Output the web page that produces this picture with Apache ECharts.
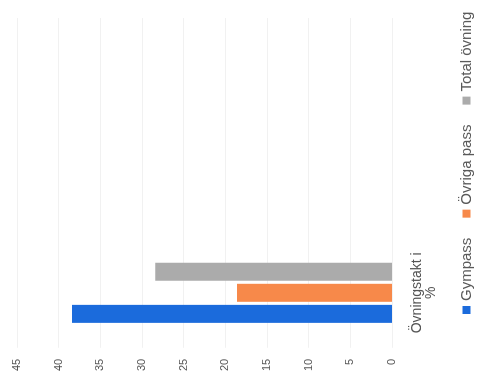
<!DOCTYPE html>
<html>
  <head>
    <meta charset="utf-8" />
    <title>Övningstakt</title>
    <script src="https://cdnjs.cloudflare.com/ajax/libs/echarts/6.0.0/echarts.min.js"></script>
  </head>
  <body>
    <style>
      html,
      body {
        width: 480px;
        height: 374px;
        margin: 0;
        padding: 0;
        overflow: hidden;
        background: #ffffff;
      }
      /* the photographed chart lies on its side, so draw it upright and turn it */
      #main {
        position: absolute;
        left: 0;
        top: 0;
        width: 374px;
        height: 480px;
        transform-origin: 0 0;
        transform: translateY(374px) rotate(-90deg);
      }
    </style>
    <div id="main"></div>
    <script type="text/javascript">
      var categories = ['Övningstakt i\n%'];
      var seriesNames = ['Gympass', 'Övriga pass', 'Total övning'];
      var gympass = [38.4];
      var ovrigaPass = [18.6];
      var totalOvning = [28.4];
      var colors = ['#1b6bdc', '#f7894a', '#ababab'];

      var chartDom = document.getElementById('main');
      var myChart = echarts.init(chartDom);
      var font = 'Liberation Sans, Arial, sans-serif';

      var option = {
        animation: false,
        color: colors,
        textStyle: { fontFamily: font },
        legend: {
          left: 55,
          bottom: 1,
          itemWidth: 8,
          itemHeight: 8,
          itemGap: 20,
          icon: 'rect',
          textStyle: { fontSize: 15, color: '#5a5a5a' },
          data: seriesNames
        },
        grid: {
          left: 26,
          right: 18,
          top: 17,
          bottom: 88
        },
        xAxis: {
          type: 'category',
          data: categories,
          max: 2, // chart continues past the cropped edge
          axisLine: { show: false },
          axisTick: { show: false },
          axisLabel: {
            margin: 18,
            fontSize: 14,
            lineHeight: 14,
            color: '#555'
          }
        },
        yAxis: {
          type: 'value',
          min: 0,
          max: 45,
          interval: 5,
          axisLabel: { fontSize: 11, color: '#555', margin: 11 },
          splitLine: { lineStyle: { color: '#f1f1f1' } }
        },
        series: [
          { name: seriesNames[0], type: 'bar', data: gympass, barWidth: 18, barGap: '17%' },
          { name: seriesNames[1], type: 'bar', data: ovrigaPass, barWidth: 18, barGap: '17%' },
          { name: seriesNames[2], type: 'bar', data: totalOvning, barWidth: 18, barGap: '17%' }
        ]
      };

      myChart.setOption(option);
    </script>
  </body>
</html>
